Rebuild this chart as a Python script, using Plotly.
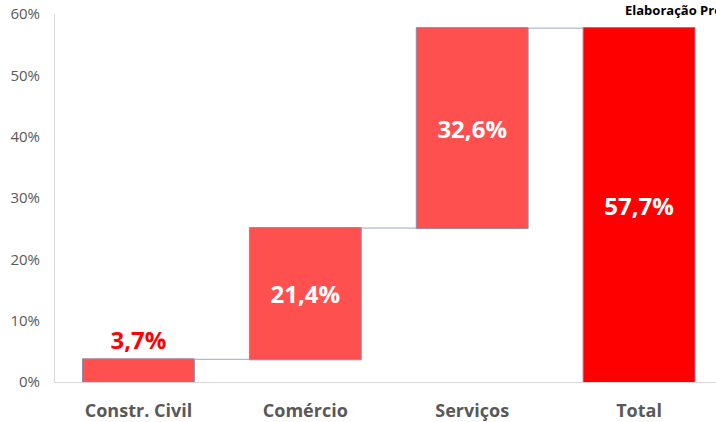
import plotly.graph_objects as go

categories = ["Constr. Civil", "Comércio", "Serviços", "Total"]
values = [3.7, 21.4, 32.6, 57.7]
measures = ["relative", "relative", "relative", "total"]
labels = ["3,7%", "21,4%", "32,6%", "57,7%"]
tick_vals = [0, 10, 20, 30, 40, 50, 60]
tick_text = ["0%", "10%", "20%", "30%", "40%", "50%", "60%"]
source_note = "Elaboração Própria"

fig = go.Figure(go.Waterfall(
    x=categories,
    y=values,
    measure=measures,
    text=labels,
    textposition=["outside", "inside", "inside", "inside"],
    insidetextanchor="middle",
    insidetextfont=dict(color="white", size=24, family="Open Sans", weight="bold"),
    outsidetextfont=dict(color="#FF0000", size=24, family="Open Sans", weight="bold"),
    textangle=0,
    cliponaxis=False,
    width=0.67,
    increasing=dict(marker=dict(color="#FF5050", line=dict(color="#8C8CB0", width=1))),
    totals=dict(marker=dict(color="#FF0000", line=dict(color="#C06080", width=1))),
    connector=dict(line=dict(color="#9AAAC8", width=1)),
    hoverinfo="skip",
))

fig.update_layout(
    width=716, height=422,
    margin=dict(l=55, r=0, t=14, b=40, autoexpand=False),
    paper_bgcolor="white", plot_bgcolor="white",
    showlegend=False,
    font=dict(family="Open Sans"),
)
fig.update_xaxes(
    range=[-0.5, 3.461], automargin=False,
    showgrid=False, showline=True, linecolor="#D9D9D9", linewidth=1,
    ticks="", tickfont=dict(size=18, color="#595959", family="Open Sans", weight="bold"),
    ticklabelstandoff=12,
)
fig.update_yaxes(
    range=[0, 60], automargin=False,
    tickvals=tick_vals, ticktext=tick_text,
    showgrid=False, zeroline=False, showline=True, linecolor="#D9D9D9", linewidth=1,
    ticks="", tickfont=dict(size=15, color="#595959", family="Open Sans"),
    ticklabelstandoff=11,
)
fig.add_annotation(
    text="<b>" + source_note + "</b>", xref="paper", yref="paper",
    x=(623 - 55) / 661, y=1, yshift=4, xanchor="left", yanchor="middle",
    showarrow=False, font=dict(size=13, color="black", family="Open Sans"),
)

fig.write_html(
    "out.html",
    config={"displayModeBar": False},
    post_script="document.body.style.margin='0';document.body.style.overflow='hidden';",
)
